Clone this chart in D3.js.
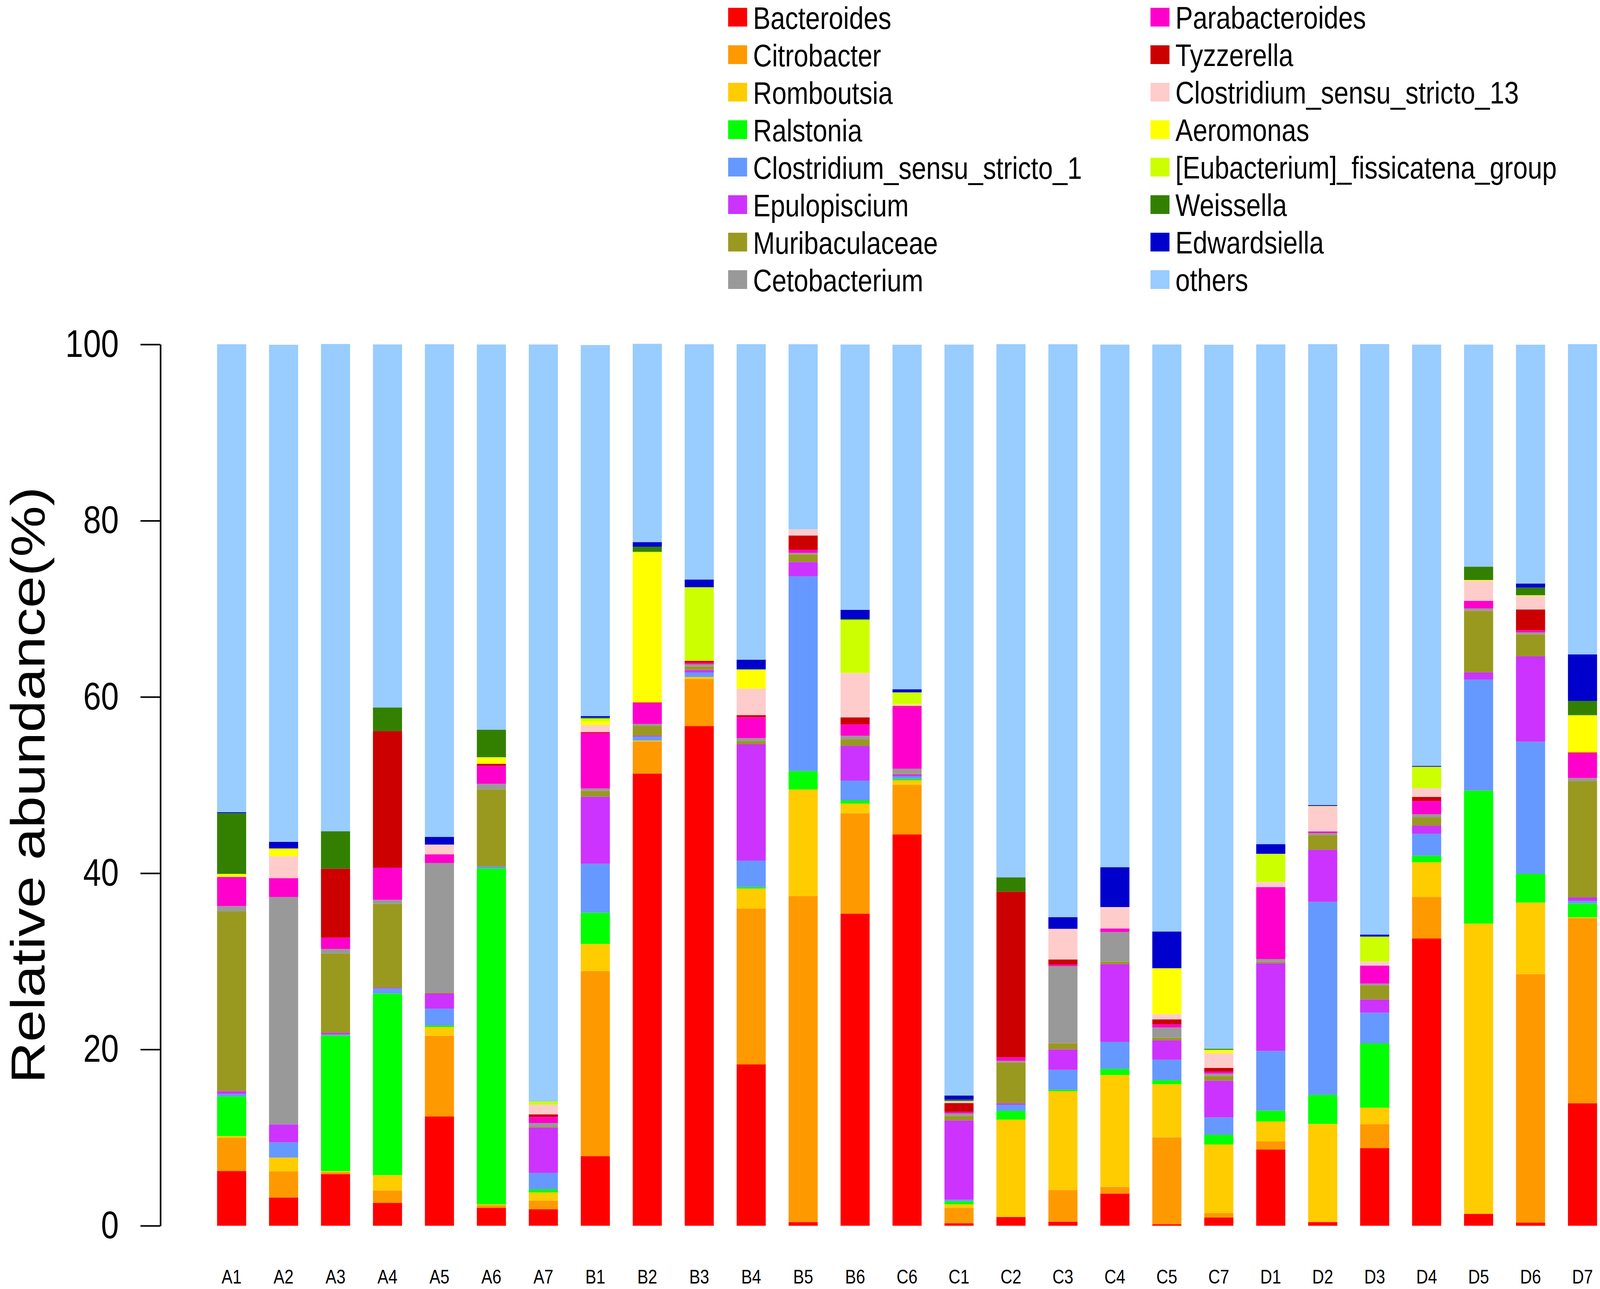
<!DOCTYPE html>
<html>
<head>
<meta charset="utf-8">
<script src="https://cdn.jsdelivr.net/npm/d3@7"></script>
<style>
  html, body { margin: 0; padding: 0; background: #fff; overflow: hidden; }
  svg { display: block; width: 100vw; height: 100vh; font-family: "Liberation Sans", Arial, sans-serif; }
</style>
</head>
<body>
<div id="chart"></div>
<script>
// samples along the x axis
const samples = ["A1", "A2", "A3", "A4", "A5", "A6", "A7", "B1", "B2", "B3", "B4", "B5", "B6", "C6",
  "C1", "C2", "C3", "C4", "C5", "C7", "D1", "D2", "D3", "D4", "D5", "D6", "D7"];

// genera, bottom of the stack first
const genera = ["Bacteroides", "Citrobacter", "Romboutsia", "Ralstonia", "Clostridium_sensu_stricto_1",
  "Epulopiscium", "Muribaculaceae", "Cetobacterium", "Parabacteroides", "Tyzzerella",
  "Clostridium_sensu_stricto_13", "Aeromonas", "[Eubacterium]_fissicatena_group", "Weissella",
  "Edwardsiella", "others"];

const colors = ["#FF0000", "#FF9900", "#FFCC00", "#00FF00", "#6699FF", "#CC33FF", "#999920", "#999999",
  "#FF00CC", "#CC0000", "#FFCCCC", "#FFFF00", "#CCFF00", "#338000", "#0000CC", "#99CCFF"];

// relative abundance (%) per sample
const bacteroides = [6.2, 3.2, 5.86, 2.6, 12.4, 2.03, 1.86, 7.9, 51.3, 56.7, 18.3, 0.4, 35.4, 44.4,
  0.29, 0.99, 0.46, 3.65, 0.17, 0.93, 8.64, 0.4, 8.81, 32.6, 1.33, 0.35, 13.9];
const citrobacter = [3.77, 2.96, 0.23, 1.4, 9.16, 0.3, 0.99, 21.0, 3.65, 5.33, 17.7, 37.0, 11.4, 5.62,
  1.74, 0.05, 3.6, 0.75, 9.86, 0.52, 0.93, 0.05, 2.72, 4.7, 0.05, 28.2, 21.0];
const romboutsia = [0.2, 1.57, 0.1, 1.74, 0.99, 0.1, 0.93, 3.07, 0.1, 0.23, 2.26, 12.1, 1.1, 0.52,
  0.4, 11.0, 11.2, 12.7, 6.03, 7.77, 2.26, 11.1, 1.86, 3.94, 32.9, 8.12, 0.1];
const ralstonia = [4.5, 0, 15.4, 20.6, 0.17, 38.1, 0.35, 3.54, 0, 0, 0.17, 2.09, 0.35, 0.17,
  0.35, 0.99, 0.17, 0.7, 0.46, 1.1, 1.22, 3.3, 7.3, 0.75, 15.1, 3.25, 1.57];
const clostridium1 = [0.3, 1.74, 0.1, 0.58, 1.9, 0.23, 1.86, 5.57, 0.46, 0.52, 3.0, 22.1, 2.26, 0.29,
  0.17, 0.7, 2.26, 3.07, 2.32, 1.97, 6.78, 21.9, 3.48, 2.49, 12.6, 15.0, 0.29];
const epulopiscium = [0.3, 2.03, 0.2, 0.1, 1.74, 0, 5.16, 7.6, 0.1, 0.29, 13.2, 1.62, 3.94, 0.23,
  9.0, 0.17, 2.32, 8.81, 2.2, 4.17, 9.97, 5.91, 1.51, 0.93, 0.81, 9.68, 0.4];
const muribaculaceae = [20.4, 0, 9.0, 9.5, 0.1, 8.75, 0.1, 0.64, 1.1, 0.4, 0.35, 0.87, 0.75, 0.1,
  0.52, 4.64, 0.7, 0.29, 0.29, 0.52, 0.17, 1.68, 1.57, 0.93, 6.96, 2.49, 13.2];
const cetobacterium = [0.6, 25.8, 0.52, 0.46, 14.7, 0.64, 0.4, 0.29, 0.23, 0.23, 0.35, 0.17, 0.4, 0.52,
  0.29, 0.17, 8.75, 3.36, 1.16, 0.29, 0.29, 0.23, 0.23, 0.35, 0.29, 0.23, 0.35];
const parabacteroides = [3.3, 2.14, 1.28, 3.65, 0.99, 2.03, 0.7, 6.3, 2.38, 0.17, 2.38, 0.35, 1.28, 7.07,
  0.17, 0.4, 0.17, 0.4, 0.35, 0.23, 8.17, 0.17, 2.03, 1.51, 0.87, 0.23, 2.84];
const tyzzerella = [0, 0, 7.83, 15.5, 0, 0.23, 0.29, 0.1, 0.05, 0.23, 0.23, 1.62, 0.8, 0.05,
  0.99, 18.8, 0.58, 0, 0.58, 0.4, 0, 0, 0, 0.46, 0, 2.38, 0.05];
const clostridium13 = [0, 2.5, 0, 0, 1.1, 0, 1.1, 0.8, 0, 0, 3.0, 0.7, 5.04, 0.17,
  0.23, 0, 3.48, 2.43, 0.58, 1.68, 0.58, 2.84, 0.46, 0.99, 2.26, 1.51, 0];
const aeromonas = [0.35, 0.87, 0, 0, 0, 0.75, 0, 0.46, 17.0, 0, 2.09, 0, 0, 0.1,
  0, 0, 0, 0, 5.22, 0.29, 0, 0.05, 0, 0, 0.1, 0.1, 4.23];
const eubacterium = [0, 0, 0, 0, 0, 0, 0.35, 0.29, 0.1, 8.35, 0.1, 0, 6.03, 1.28,
  0, 0, 0, 0, 0, 0.1, 3.19, 0, 2.84, 2.43, 0, 0, 0];
const weissella = [6.9, 0, 4.23, 2.67, 0, 3.13, 0, 0.1, 0.58, 0, 0, 0, 0.1, 0,
  0.17, 1.62, 0, 0, 0, 0.1, 0, 0, 0, 0, 1.51, 0.87, 1.62];
const edwardsiella = [0.1, 0.75, 0, 0, 0.87, 0, 0, 0.17, 0.52, 0.87, 1.1, 0, 1.04, 0.35,
  0.46, 0, 1.33, 4.52, 4.17, 0, 1.1, 0.1, 0.23, 0.1, 0, 0.46, 5.28];
const others = [53.1, 56.4, 55.3, 41.2, 55.9, 43.7, 85.9, 42.1, 22.5, 26.7, 35.8, 21.0, 30.1, 39.1,
  85.2, 60.5, 65.0, 59.3, 66.6, 79.9, 56.7, 52.3, 67.0, 47.8, 25.2, 27.1, 35.2];

const yTicks = [0, 20, 40, 60, 80, 100];

const series = [bacteroides, citrobacter, romboutsia, ralstonia, clostridium1, epulopiscium,
  muribaculaceae, cetobacterium, parabacteroides, tyzzerella, clostridium13, aeromonas,
  eubacterium, weissella, edwardsiella, others];

// table for d3.stack
const table = samples.map((s, i) => {
  const row = { sample: s };
  genera.forEach((g, j) => { row[g] = series[j][i]; });
  return row;
});

const W = 4887, H = 3301;
const plotTop = 882, plotBottom = 3139, axisX = 490;

// drawing is laid out at 4887x3301 and stretched to fill the window
const svg = d3.select("#chart").append("svg")
  .attr("viewBox", `0 0 ${W} ${H}`)
  .attr("preserveAspectRatio", "none");

const x = d3.scaleBand()
  .domain(samples)
  .range([663, 4878])
  .paddingInner(0.44)
  .paddingOuter(0);

const y = d3.scaleLinear()
  .domain([0, 100])
  .range([plotBottom, plotTop]);

const color = d3.scaleOrdinal().domain(genera).range(colors);

const stacked = d3.stack().keys(genera)(table);

// bars
svg.append("g")
  .selectAll("g")
  .data(stacked)
  .join("g")
  .attr("fill", (d) => color(d.key))
  .selectAll("rect")
  .data((d) => d)
  .join("rect")
  .attr("x", (d) => x(d.data.sample))
  .attr("width", x.bandwidth())
  .attr("y", (d) => y(d[1]))
  .attr("height", (d) => y(d[0]) - y(d[1]));

// y axis
const yAxis = svg.append("g")
  .attr("transform", `translate(${axisX},0)`)
  .call(d3.axisLeft(y).tickValues(yTicks).tickSize(61).tickSizeOuter(0).tickPadding(66));
yAxis.select(".domain").attr("stroke", "#000").attr("stroke-width", 5);
yAxis.selectAll(".tick line").attr("stroke", "#000").attr("stroke-width", 4);
yAxis.selectAll(".tick text")
  .attr("fill", "#000")
  .style("font-size", "98px")
  .style("font-family", "'Liberation Sans', Arial, sans-serif");

// y axis title
svg.append("text")
  .attr("transform", `translate(136,${(plotTop + plotBottom) / 2}) rotate(-90)`)
  .attr("text-anchor", "middle")
  .style("font-size", "147px")
  .text("Relative abundance(%)");

// x labels
const xAxis = svg.append("g")
  .attr("transform", `translate(0,${plotBottom})`)
  .call(d3.axisBottom(x).tickSize(0));
xAxis.select(".domain").remove();
xAxis.selectAll(".tick text")
  .attr("y", 148)
  .attr("dy", 0)
  .attr("fill", "#000")
  .style("font-size", "50px")
  .style("font-family", "'Liberation Sans', Arial, sans-serif");

// legend, two columns of eight
const legend = svg.append("g")
  .selectAll("g")
  .data(genera)
  .join("g")
  .attr("transform", (d, i) => {
    const col = Math.floor(i / 8), row = i % 8;
    return `translate(${col === 0 ? 2224 : 3514},${20 + row * 96})`;
  });

legend.append("rect")
  .attr("width", 58)
  .attr("height", 48)
  .attr("fill", (d) => color(d));

legend.append("text")
  .attr("x", 76)
  .attr("y", (d, i) => (i < 8 ? 54 : 53))
  .style("font-size", "80px")
  .text((d) => d);
</script>
</body>
</html>
